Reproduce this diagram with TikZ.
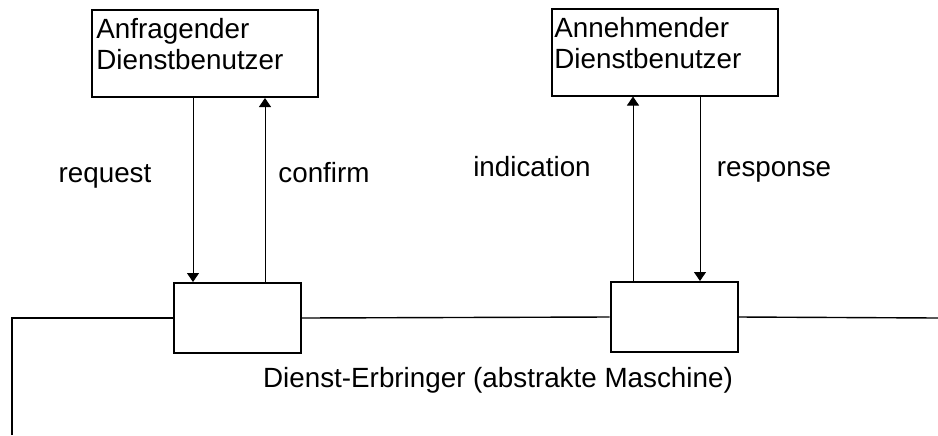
\documentclass[tikz,border=0pt]{standalone}
\usepackage{fontspec}
\setmainfont{Liberation Sans}
\usetikzlibrary{arrows.meta}
\tikzset{
    nutzer/.style={draw, line width=1pt, minimum width=113pt, minimum height=43.5pt, inner sep=0pt},
    instanz/.style={draw, line width=1pt, minimum width=63.5pt, minimum height=35pt, inner sep=0pt},
    signal/.style={line width=0.5pt, -{Triangle[width=6pt,length=4.5pt]}},
    leitung/.style={line width=0.7pt},
    txt/.style={inner sep=0pt, font=\fontsize{13.9}{15.7}\selectfont}
}
\begin{document}
\begin{tikzpicture}[x=0.5pt, y=-0.5pt]
    \useasboundingbox (0,0) rectangle (938,435);
    \node[nutzer] (anfr) at (205,53.5) {};
    \node[txt, anchor=north west, align=left] (anfrtext) at ([shift={(5,9)}]anfr.north west) {Anfragender\\Dienstbenutzer};
    \node[nutzer] (annehm) at (665,52) {};
    \node[txt, anchor=north west, align=left] (annehmtext) at ([shift={(3,9)}]annehm.north west) {Annehmender\\Dienstbenutzer};
    \node[instanz] (inst1) at (237.5,318) {};
    \node[instanz] (inst2) at (674,317) {};
    \coordinate (links) at (12,318);
    \coordinate (unten) at (12,435);
    \coordinate (rechts) at (938,318);
    \draw[leitung] (unten) -- (links) -- (links -| inst1.west);
    \draw[leitung] (inst1.east) -- (inst2.west);
    \draw[leitung] (inst2.east) -- (rechts);
    \coordinate (req) at (193,0);
    \coordinate (conf) at (265,0);
    \coordinate (ind) at (633,0);
    \coordinate (resp) at (700,0);
    \draw[signal] (anfr.south -| req) -- (inst1.north -| req);
    \draw[signal] (inst1.north -| conf) -- (anfr.south -| conf);
    \draw[signal] (inst2.north -| ind) -- (annehm.south -| ind);
    \draw[signal] (annehm.south -| resp) -- (inst2.north -| resp);
    \node[txt, anchor=base] (request) at (105,182) {request};
    \node[txt, anchor=base] (confirm) at (324,182) {confirm};
    \node[txt, anchor=base] (indication) at (532,176) {indication};
    \node[txt, anchor=base] (response) at (774,176) {response};
    \node[txt, anchor=base] (erbringer) at (498,387) {Dienst-Erbringer (abstrakte Maschine)};
\end{tikzpicture}
\end{document}
